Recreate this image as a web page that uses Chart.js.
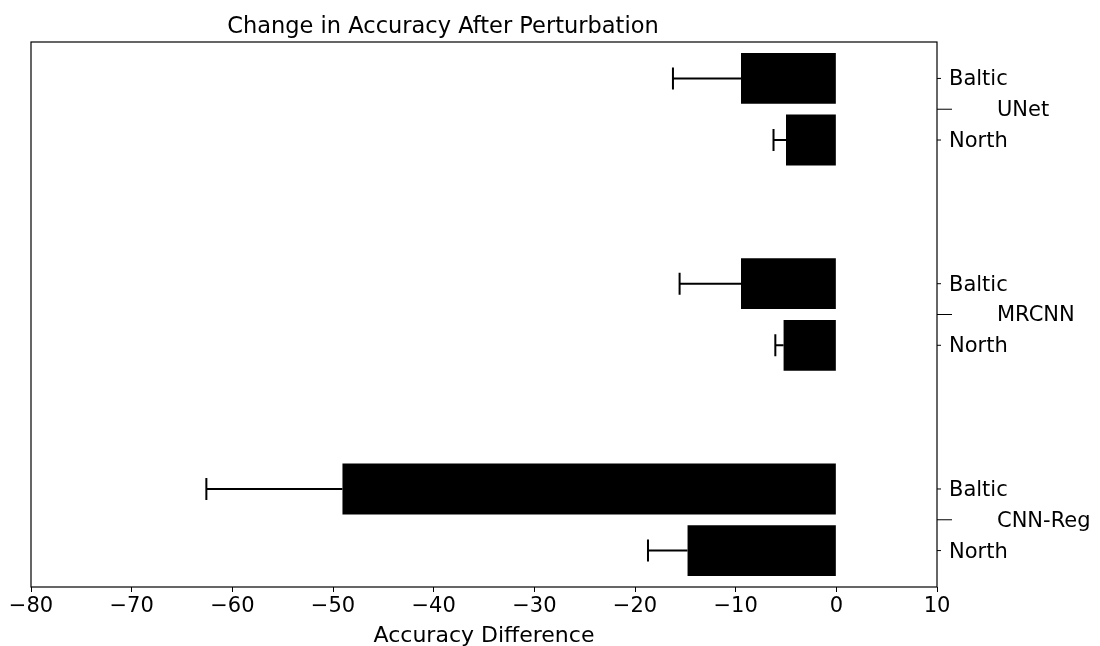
<!DOCTYPE html>
<html>
<head>
<meta charset="utf-8">
<script src="https://cdn.jsdelivr.net/npm/chart.js@4.4.0/dist/chart.umd.min.js"></script>
<style>
html,body{margin:0;padding:0;background:#fff;}
#wrap{width:1100px;height:646px;position:relative;}
</style>
</head>
<body>
<div id="wrap"><canvas id="c" width="1100" height="646"></canvas></div>
<script>
// ---- data ----
const groups = ['UNet', 'MRCNN', 'CNN-Reg'];
const subLabels = ['Baltic', 'North'];
const balticValues = [-9.47, -9.47, -49.06];
const northValues = [-5.0, -5.24, -14.78];
const balticErr = [6.76, 6.10, 13.52];
const northErr = [1.24, 0.82, 3.93];
const xTicks = [-80, -70, -60, -50, -40, -30, -20, -10, 0, 10];

const FONT = 'DejaVu Sans';
const nG = groups.length;
const groupPos = groups.map((g, i) => nG - 1 - i);
const OFF = 0.15;

const balticPts = balticValues.map((v, i) => ({x: v, y: groupPos[i] + OFF, err: balticErr[i]}));
const northPts = northValues.map((v, i) => ({x: v, y: groupPos[i] - OFF, err: northErr[i]}));

const errPlugin = {
  id: 'errbars',
  afterDatasetsDraw(chart) {
    const ctx = chart.ctx, xs = chart.scales.x, ys = chart.scales.y;
    ctx.save();
    ctx.strokeStyle = '#000';
    ctx.lineWidth = 2;
    chart.data.datasets.forEach(ds => {
      ds.data.forEach(p => {
        const y = ys.getPixelForValue(p.y);
        const x0 = xs.getPixelForValue(p.x);
        const x1 = xs.getPixelForValue(p.x - p.err);
        ctx.beginPath();
        ctx.moveTo(x0, y); ctx.lineTo(x1, y);
        ctx.moveTo(x1, y - 11); ctx.lineTo(x1, y + 11);
        ctx.stroke();
      });
    });
    ctx.restore();
  }
};

const framePlugin = {
  id: 'frame',
  afterDraw(chart) {
    const ctx = chart.ctx, a = chart.chartArea, ys = chart.scales.y;
    ctx.save();
    ctx.strokeStyle = '#000';
    ctx.lineWidth = 1.2;
    ctx.strokeRect(a.left, a.top, a.right - a.left, a.bottom - a.top);
    // right axis ticks and labels
    ctx.fillStyle = '#000';
    ctx.font = '21px "' + FONT + '"';
    ctx.textBaseline = 'middle';
    ctx.textAlign = 'left';
    ctx.lineWidth = 1;
    groups.forEach((g, i) => {
      [OFF, -OFF].forEach((o, k) => {
        const y = ys.getPixelForValue(groupPos[i] + o);
        ctx.beginPath(); ctx.moveTo(a.right, y); ctx.lineTo(a.right + 4, y); ctx.stroke();
        ctx.fillText(subLabels[k], a.right + 12, y + 1.5);
      });
      const yc = ys.getPixelForValue(groupPos[i]);
      ctx.beginPath(); ctx.moveTo(a.right, yc); ctx.lineTo(a.right + 15, yc); ctx.stroke();
      ctx.fillText(g, a.right + 60, yc + 1.5);
    });
    // title
    ctx.font = '22.5px "' + FONT + '"';
    ctx.textAlign = 'center';
    ctx.textBaseline = 'alphabetic';
    ctx.fillText('Change in Accuracy After Perturbation', 443, 33);
    // x axis label
    ctx.font = '22px "' + FONT + '"';
    ctx.fillText('Accuracy Difference', (a.left + a.right) / 2, 642);
    ctx.restore();
  }
};

new Chart(document.getElementById('c'), {
  type: 'bar',
  data: {
    datasets: [
      {label: 'Baltic', data: balticPts, backgroundColor: '#000', borderWidth: 0},
      {label: 'North', data: northPts, backgroundColor: '#000', borderWidth: 0}
    ]
  },
  options: {
    indexAxis: 'y',
    responsive: false,
    animation: false,
    devicePixelRatio: 1,
    layout: {padding: {left: 31, right: 163, top: 42, bottom: 0}},
    plugins: {legend: {display: false}, tooltip: {enabled: false}, title: {display: false}},
    datasets: {bar: {grouped: false, categoryPercentage: 1, barPercentage: 0.825}},
    scales: {
      y: {
        type: 'linear', display: false, min: -0.3275, max: nG - 1 + 0.3275,
        offset: false
      },
      x: {
        type: 'linear', min: -80, max: 10,
        afterBuildTicks(s) { s.ticks = xTicks.map(v => ({value: v})); },
        afterFit(s) { s.height = 59; },
        grid: {drawOnChartArea: false, drawTicks: true, tickLength: 5, color: '#000', tickWidth: 1},
        border: {display: false},
        ticks: {
          color: '#000', font: {family: FONT, size: 21}, padding: 2, maxRotation: 0, autoSkip: false,
          callback: v => String(v).replace('-', '\u2212')
        },
        title: {display: false}
      }
    }
  },
  plugins: [errPlugin, framePlugin]
});
</script>
</body>
</html>
